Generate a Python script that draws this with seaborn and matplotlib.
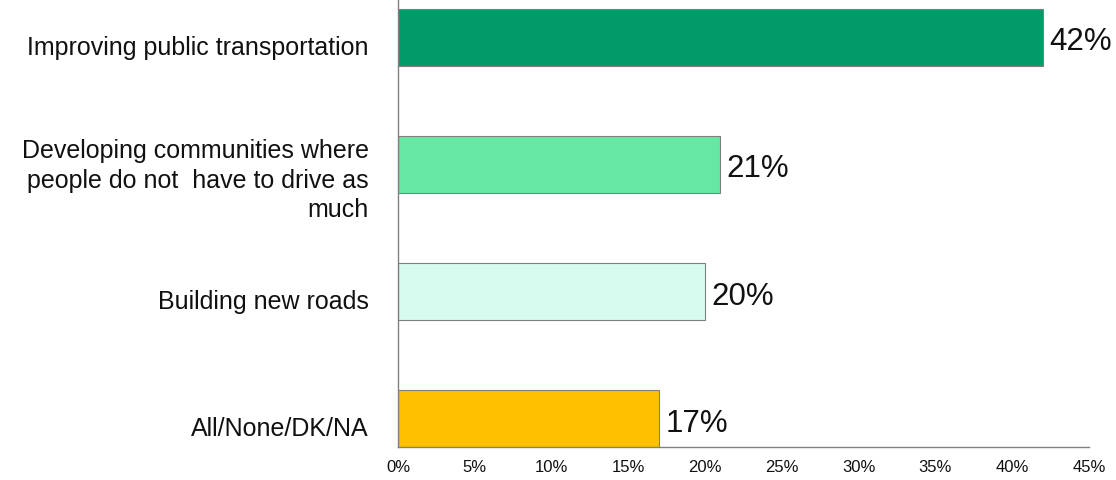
import matplotlib
matplotlib.use("Agg")
import matplotlib.pyplot as plt
import matplotlib.transforms as mtransforms
import seaborn as sns
import pandas as pd
from matplotlib.ticker import FuncFormatter

categories = [
    "Improving public transportation",
    "Developing communities where\npeople do not  have to drive as\nmuch",
    "Building new roads",
    "All/None/DK/NA",
]
values = [42, 21, 20, 17]
colors = ["#009B69", "#66E8A2", "#D6FBEF", "#FFC000"]
xticks = [0, 5, 10, 15, 20, 25, 30, 35, 40, 45]

sns.set_theme(style="white")
plt.rcParams["font.family"] = ["Liberation Sans", "DejaVu Sans"]

df = pd.DataFrame({"cat": categories, "val": values})

fig = plt.figure(figsize=(11.16, 4.81), dpi=100)
ax = fig.add_axes([398 / 1116, 33 / 481, (1089 - 398) / 1116, 448 / 481])

sns.barplot(data=df, x="val", y="cat", hue="cat", palette=colors, legend=False,
            saturation=1, width=0.45, edgecolor="#7f7f7f", linewidth=0.8, ax=ax, orient="h")

down = mtransforms.ScaledTranslation(0, -4 / 100, fig.dpi_scale_trans)
for i, v in enumerate(values):
    ax.text(v + 0.4, i, f"{v}%", va="center", ha="left", fontsize=22.5, color="#111111",
            transform=ax.transData + down)

ax.set_xlim(0, 45)
ax.set_ylim(3.22, -0.3)
ax.set_xticks(xticks)
ax.xaxis.set_major_formatter(FuncFormatter(lambda x, p: f"{int(x)}%"))
ax.set_xlabel("")
ax.set_ylabel("")
ax.tick_params(axis="x", labelsize=12, length=5, direction="inout", color="#808080", pad=6)
ax.tick_params(axis="y", labelsize=18, length=0, pad=21)
fig.canvas.draw()
for lbl in ax.get_yticklabels():
    lbl.set_horizontalalignment("right")
    lbl.set_multialignment("right")
    lbl.set_linespacing(1.28)
    lbl.set_color("#111111")
    shift = -10 if "\n" in lbl.get_text() else -7
    lbl.set_transform(lbl.get_transform() + mtransforms.ScaledTranslation(0, shift / 100, fig.dpi_scale_trans))
for lbl in ax.get_xticklabels():
    lbl.set_color("#111111")
for s in ["top", "right"]:
    ax.spines[s].set_visible(False)
for s in ["left", "bottom"]:
    ax.spines[s].set_color("#808080")
    ax.spines[s].set_linewidth(1.0)

fig.savefig("out.png", dpi=100)
